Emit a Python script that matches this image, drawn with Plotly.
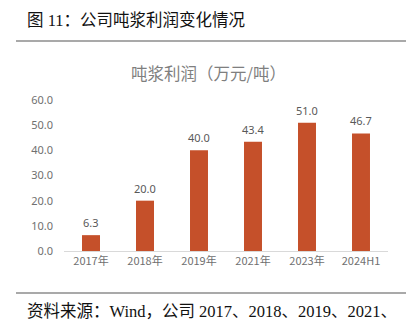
import plotly.graph_objects as go

categories = ["2017年", "2018年", "2019年", "2021年", "2023年", "2024H1"]
values = [6.3, 20.0, 40.0, 43.4, 51.0, 46.7]
y_ticks = [0, 10, 20, 30, 40, 50, 60]

W, H = 406, 321
L, R, T, B = 64, 18, 100, 70
pw, ph = W - L - R, H - T - B

def px_x(px):
    return (px - L) / pw

def px_y(py):
    return (H - B - py) / ph

fig = go.Figure()
fig.add_trace(go.Bar(
    x=categories, y=values,
    marker=dict(color="#C5502A", line=dict(width=0)),
))

for c, v in zip(categories, values):
    fig.add_annotation(x=c, y=v, yanchor="bottom", yshift=3, showarrow=False,
                       text=f"{v:.1f}",
                       font=dict(size=11, color="#595959", family="Noto Sans"))

fig.update_layout(
    width=W, height=H,
    margin=dict(l=L, r=R, t=T, b=B, pad=0),
    paper_bgcolor="white", plot_bgcolor="white",
    bargap=0.667,
    showlegend=False,
    font=dict(family="Noto Sans CJK SC", color="#595959"),
)
fig.update_xaxes(
    showline=True, linecolor="#D9D9D9", linewidth=1,
    ticks="", tickfont=dict(size=11, color="#707070", family="Noto Sans CJK SC"),
    showgrid=False,
)
fig.update_yaxes(
    range=[0, 60], tickvals=y_ticks, tickformat=".1f",
    showgrid=False, zeroline=False, showline=False,
    tickfont=dict(size=11, color="#707070", family="Noto Sans"),
    ticklabelstandoff=10,
)

# header & footer lines
fig.add_shape(type="line", xref="paper", yref="paper",
              x0=px_x(16), x1=px_x(406), y0=px_y(41), y1=px_y(41),
              line=dict(color="#555555", width=1.2))
fig.add_shape(type="line", xref="paper", yref="paper",
              x0=px_x(16), x1=px_x(406), y0=px_y(293), y1=px_y(293),
              line=dict(color="#555555", width=1.2))

serif_cjk = "Liberation Serif, Noto Sans CJK SC"
fig.add_annotation(xref="paper", yref="paper", x=px_x(25), y=px_y(20),
                   xanchor="left", yanchor="middle", showarrow=False,
                   text="图 11：公司吨浆利润变化情况",
                   font=dict(size=16.5, color="#111111", family=serif_cjk))
fig.add_annotation(xref="paper", yref="paper", x=px_x(208), y=px_y(73),
                   xanchor="center", yanchor="middle", showarrow=False,
                   text="吨浆利润（万元/吨）",
                   font=dict(size=16.5, color="#7F7F7F", family="Noto Sans CJK SC"))
fig.add_annotation(xref="paper", yref="paper", x=px_x(25), y=px_y(311),
                   xanchor="left", yanchor="middle", showarrow=False,
                   text="资料来源：Wind，公司 2017、2018、2019、2021、",
                   font=dict(size=16.5, color="#111111", family=serif_cjk))

fig.write_html("out.html")
